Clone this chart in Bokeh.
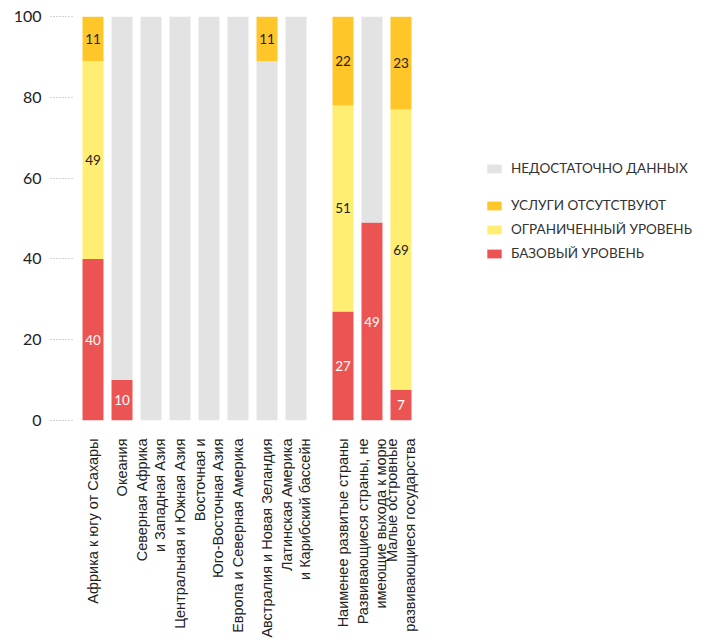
import math
from bokeh.plotting import figure
from bokeh.models import ColumnDataSource, Range1d, FixedTicker, Legend, LegendItem
from bokeh.core.properties import value
from bokeh.embed import file_html
from bokeh.resources import INLINE

categories = [
    "Африка к югу от Сахары",
    "Океания",
    "Северная Африка\nи Западная Азия",
    "Центральная и Южная Азия",
    "Восточная и\nЮго-Восточная Азия",
    "Европа и Северная Америка",
    "Австралия и Новая Зеландия",
    "Латинская Америка\nи Карибский бассейн",
    "Наименее развитые страны",
    "Развивающиеся страны, не\nимеющие выхода к морю",
    "Малые островные\nразвивающиеся государства",
]
positions = [0, 1, 2, 3, 4, 5, 6, 7, 8.62, 9.62, 10.62]

basic = [40, 10, 0, 0, 0, 0, 0, 0, 27, 49, 7.6]
limited = [49, 0, 0, 0, 0, 0, 0, 0, 51, 0, 69.4]
no_data = [0, 90, 100, 100, 100, 100, 89, 100, 0, 51, 0]
no_service = [11, 0, 0, 0, 0, 0, 11, 0, 22, 0, 23]

series_names = ["БАЗОВЫЙ УРОВЕНЬ", "ОГРАНИЧЕННЫЙ УРОВЕНЬ", "НЕДОСТАТОЧНО ДАННЫХ", "УСЛУГИ ОТСУТСТВУЮТ"]
colors = ["#EC5454", "#FFEE72", "#E3E3E3", "#FFC629"]
y_ticks = [0, 20, 40, 60, 80, 100]

W, H = 714, 641
left, right, top, bottom = 72, 10, 16, 221
px_per_unit = 29.0
frame_w = W - left - right
x0 = -20.5 / px_per_unit

src = ColumnDataSource(dict(x=positions, basic=basic, limited=limited, no_data=no_data, no_service=no_service))

p = figure(width=W, height=H, output_backend="svg", toolbar_location=None,
           x_range=Range1d(x0, x0 + frame_w / px_per_unit), y_range=Range1d(0, 100),
           min_border_left=left, min_border_right=right, min_border_top=top, min_border_bottom=bottom)
p.outline_line_color = None
p.grid.visible = False

rs = p.vbar_stack(["basic", "limited", "no_data", "no_service"], x="x", width=0.724, color=colors,
                  source=src, line_color=None)

# segment labels
lx, ly, lt, lc = [], [], [], []
for i, xp in enumerate(positions):
    base = 0
    for key, vals, tc in [("basic", basic, "#ffffff"), ("limited", limited, "#222222"),
                          ("no_data", no_data, None), ("no_service", no_service, "#222222")]:
        v = vals[i]
        if v > 0 and tc is not None:
            lx.append(xp)
            ly.append(base + v / 2)
            lt.append(str(int(v)))
            lc.append(tc)
        base += v
p.text(x=lx, y=ly, text=lt, text_color=lc, text_align="center", text_baseline="middle",
       text_font=value("Lato"), text_font_size="13.5px")

# axes
p.yaxis.ticker = FixedTicker(ticks=y_ticks)
p.yaxis.axis_line_color = None
p.yaxis.minor_tick_line_color = None
p.yaxis.major_tick_in = 0
p.yaxis.major_tick_out = 22
p.yaxis.major_tick_line_color = "#aaaaaa"
p.yaxis.major_tick_line_dash = "1 2"
p.yaxis.major_label_standoff = 9
p.yaxis.major_label_text_font = "Lato"
p.yaxis.major_label_text_font_size = "16px"
p.yaxis.major_label_text_color = "#222222"

p.xaxis.ticker = FixedTicker(ticks=positions)
p.xaxis.major_label_overrides = {xp: c for xp, c in zip(positions, categories)}
p.xaxis.major_label_orientation = math.pi / 2
p.xaxis.axis_line_color = None
p.xaxis.major_tick_line_color = None
p.xaxis.minor_tick_line_color = None
p.xaxis.major_label_standoff = 12
p.xaxis.major_label_text_font = "Liberation Sans"
p.xaxis.major_label_text_font_size = "14.5px"
p.xaxis.major_label_text_line_height = 1.12
p.xaxis.major_label_text_color = "#222222"

def make_legend(items, loc):
    lg = Legend(items=items, location=loc, orientation="vertical",
                glyph_width=18, glyph_height=11, label_height=20, spacing=4,
                padding=0, margin=0, border_line_color=None, background_fill_alpha=0,
                label_text_font="Lato", label_text_font_size="13.5px", label_text_color="#333333",
                label_standoff=8)
    p.add_layout(lg, "center")

make_legend([LegendItem(label=series_names[2], renderers=[rs[2]])], (413, 242))
make_legend([LegendItem(label=series_names[3], renderers=[rs[3]]),
             LegendItem(label=series_names[1], renderers=[rs[1]]),
             LegendItem(label=series_names[0], renderers=[rs[0]])], (413, 157))

open("out.html", "w").write(file_html(p, INLINE))
